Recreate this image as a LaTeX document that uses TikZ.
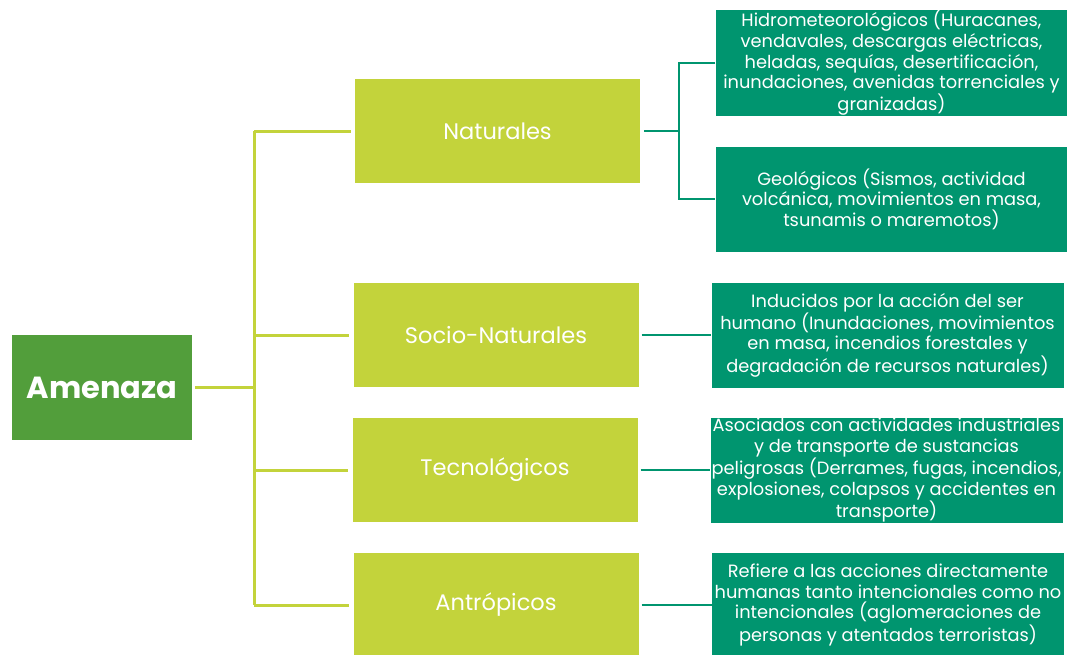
\documentclass[tikz,border=0pt]{standalone}
\usepackage{fontspec}
\setmainfont{Poppins}
\definecolor{amen}{HTML}{529E3B}
\definecolor{cat}{HTML}{C3D33B}
\definecolor{tealg}{HTML}{00956F}
\begin{document}
\begin{tikzpicture}[x=1pt,y=-1pt,
  amenbox/.style={fill=amen,draw=none,text=white,font=\fontsize{30.5}{35}\selectfont\bfseries,minimum width=180,minimum height=105,inner sep=0},
  catbox/.style={fill=cat,draw=none,text=white,font=\fontsize{22.5}{27}\selectfont,minimum width=285,minimum height=104,inner sep=0},
  descbox/.style={fill=tealg,draw=none,text=white,font=\fontsize{17.8}{20.6}\selectfont,align=center,minimum width=352,minimum height=105,inner sep=0},
  catline/.style={draw=cat,line width=3pt},
  tline/.style={draw=tealg,line width=2.5pt}]
\useasboundingbox (0,0) rectangle (1067,654);
\node[amenbox] (amen) at (102,387.5) {Amenaza};
\node[catbox] (nat) at (497.5,131) {Naturales};
\node[catbox] (soc) at (496,335) {Socio-Naturales};
\node[catbox] (tec) at (495,470) {Tecnológicos};
\node[catbox] (ant) at (496,605) {Antrópicos};
\node[descbox] (hid) at (891.5,63) {Hidrometeorológicos (Huracanes,\\vendavales, descargas eléctricas,\\heladas, sequías, desertificación,\\inundaciones, avenidas torrenciales y\\granizadas)};
\node[descbox] (geo) at (891.5,199) {Geológicos (Sismos, actividad\\volcánica, movimientos en masa,\\tsunamis o maremotos)};
\node[descbox] (ind) at (887.5,335) {Inducidos por la acción del ser\\humano (Inundaciones, movimientos\\en masa, incendios forestales y\\degradación de recursos naturales)};
\node[descbox] (aso) at (886.5,470) {Asociados con actividades industriales\\y de transporte de sustancias\\peligrosas (Derrames, fugas, incendios,\\explosiones, colapsos y accidentes en\\transporte)};
\node[descbox] (ref) at (888,605) {Refiere a las acciones directamente\\humanas tanto intencionales como no\\intencionales (aglomeraciones de\\personas y atentados terroristas)};
\coordinate (j0) at (254,387.5);
\coordinate (jt) at (254,131);
\coordinate (jb) at (254,605);
\coordinate (kn) at (679,131);
\draw[catline,shorten <=3pt] (amen.east) -- (j0);
\draw[catline] (jt) -- (jb);
\draw[catline,shorten >=4pt] (jt) -- (nat.west);
\draw[catline,shorten >=4pt] (jt |- soc.west) -- (soc.west);
\draw[catline,shorten >=4pt] (jt |- tec.west) -- (tec.west);
\draw[catline,shorten >=4pt] (jb) -- (ant.west);
\draw[tline,shorten <=4pt] (nat.east) -- (kn);
\draw[tline] (hid.west) -| (kn) |- (geo.west);
\draw[tline,shorten <=3pt] (soc.east) -- (ind.west);
\draw[tline,shorten <=3pt] (tec.east) -- (aso.west);
\draw[tline,shorten <=3pt] (ant.east) -- (ref.west);
\end{tikzpicture}
\end{document}
